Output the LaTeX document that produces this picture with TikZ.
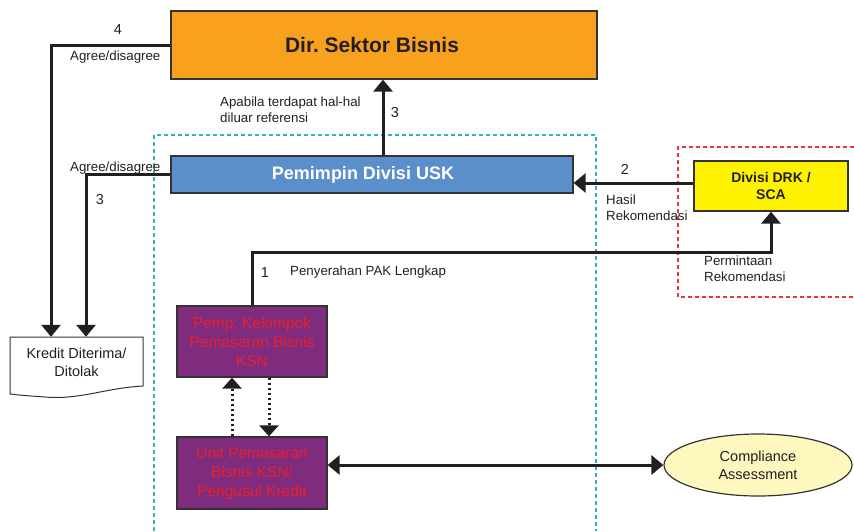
\documentclass[tikz,border=0pt]{standalone}
\usepackage{fontspec}
\setmainfont{Liberation Sans}
\usetikzlibrary{arrows.meta,shapes.geometric}
\frenchspacing

\definecolor{dirorange}{HTML}{F7A11E}
\definecolor{uskblue}{HTML}{5A8FCB}
\definecolor{drkyellow}{HTML}{FFF200}
\definecolor{ksnpurple}{HTML}{7F2C7F}
\definecolor{ksnred}{HTML}{E8202A}
\definecolor{cafill}{HTML}{FFF8BE}
\definecolor{edgegray}{HTML}{333333}
\definecolor{zonecyan}{HTML}{2BB5B5}
\definecolor{zonered}{HTML}{E8383D}
\definecolor{ink}{HTML}{231F20}

\tikzset{
  box/.style={draw=edgegray, line width=1.3pt, minimum width=#1, inner sep=0pt, align=center},
  flow/.style={line width=3pt, draw=ink, -{Triangle[width=19pt,length=12pt]}},
  flowboth/.style={line width=3pt, draw=ink, {Triangle[width=19pt,length=12pt]}-{Triangle[width=19pt,length=12pt]}},
  dotflow/.style={line width=3pt, draw=ink, dash pattern=on 2.6pt off 2.4pt, -{Triangle[width=19pt,length=11pt]}},
  small/.style={font=\fontsize{13.3}{15.7}\selectfont, text=ink, inner sep=0pt, align=left},
  num/.style={font=\fontsize{14.5}{16}\selectfont, text=ink, inner sep=0pt},
  zone/.style={line width=1.2pt, dash pattern=on 4pt off 3pt},
}

\begin{document}
\begin{tikzpicture}[x=1pt,y=-1pt]
\useasboundingbox (0,0) rectangle (854,531);

% dashed zones
\draw[zone, zonecyan] (154,531) -- (154,135) -- (596,135) -- (596,531);
\draw[zone, zonered] (854,147) -- (678,147) -- (678,297) -- (854,297);

% boxes
\node[box=426pt, minimum height=68pt, fill=dirorange,
      font=\fontsize{21}{24}\bfseries\selectfont, text=ink] (dir) at (384,45) {Dir. Sektor Bisnis\hspace*{24pt}};
\node[box=402pt, minimum height=37pt, fill=uskblue,
      font=\fontsize{18}{21}\bfseries\selectfont, text=white] (usk) at (372,174.5) {Pemimpin Divisi USK\hspace*{18pt}};
\node[box=154pt, minimum height=50pt, fill=drkyellow,
      font=\fontsize{14}{17}\bfseries\selectfont, text=ink] (drk) at (771,186) {Divisi DRK /\\SCA};
\node[box=150pt, minimum height=71pt, fill=ksnpurple,
      font=\fontsize{15.5}{19}\selectfont, text=ksnred] (pemp) at (252,341.5) {Pemp. Kelompok\\Pemasaran Bisnis\\KSN};
\node[box=150pt, minimum height=72pt, fill=ksnpurple,
      font=\fontsize{15.5}{19}\selectfont, text=ksnred] (unit) at (252,473) {Unit Pemasaran\\Bisnis KSN/\\Pengusul Kredit};
\node[ellipse, draw=edgegray, line width=1.2pt, fill=cafill, minimum width=188pt, minimum height=62pt,
      inner sep=0pt, align=center, font=\fontsize{14.5}{17.7}\selectfont, text=ink] (ca) at (758,465) {Compliance\\Assessment};

% document shape with wavy bottom edge
\draw[edgegray, line width=1pt, fill=white]
  (10,337) -- (143,337) -- (143,386)
  .. controls (105,388) and (80,400) .. (45,397)
  .. controls (30,396) and (18,395) .. (10,394) -- cycle;
\node[minimum width=133pt, minimum height=50pt, inner sep=0pt, align=center,
      font=\fontsize{14.5}{17.7}\selectfont, text=ink] (doc) at (76.5,362) {Kredit Diterima/\\Ditolak};

% turning points
\coordinate (x4) at (51,0);
\coordinate (x3) at (86,0);
\coordinate (xup) at (383,0);
\coordinate (y1) at (0,252);
\coordinate (y2) at (0,183);
\coordinate (dl) at (232,0);
\coordinate (dr) at (269,0);

% connectors
\draw[flow] (dir.west) -| (x4 |- doc.north);
\draw[flow] (usk.west) -| (x3 |- doc.north);
\draw[flow] (usk.north -| xup) -- (dir.south -| xup);
\draw[flow] (drk.west |- y2) -- (usk.east |- y2);
\draw[flow] (pemp.north) -- (pemp.north |- y1) -| (drk.south);
\draw[dotflow] (unit.north -| dl) -- (pemp.south -| dl);
\draw[dotflow] (pemp.south -| dr) -- (unit.north -| dr);
\draw[flowboth] (unit.east |- ca.west) -- (ca.west);

% labels
\node[num] (n4) at (118,30) {4};
\node[small, anchor=west] (ad1) at (70,57) {Agree/disagree};
\node[small, anchor=west] (ad2) at (70,168) {Agree/disagree};
\node[num] (n3a) at (100,200) {3};
\node[small, anchor=west] (apb) at (220,109.5) {Apabila terdapat hal-hal\\diluar referensi};
\node[num] (n3b) at (395,113) {3};
\node[num] (n2) at (625,169) {2};
\node[small, anchor=west] (hasil) at (606,208) {Hasil\\Rekomendasi};
\node[num] (n1) at (265,273) {1};
\node[small, anchor=west] (pak) at (290,272) {Penyerahan PAK Lengkap};
\node[small, anchor=west] (minta) at (704,269) {Permintaan\\Rekomendasi};
\end{tikzpicture}
\end{document}
